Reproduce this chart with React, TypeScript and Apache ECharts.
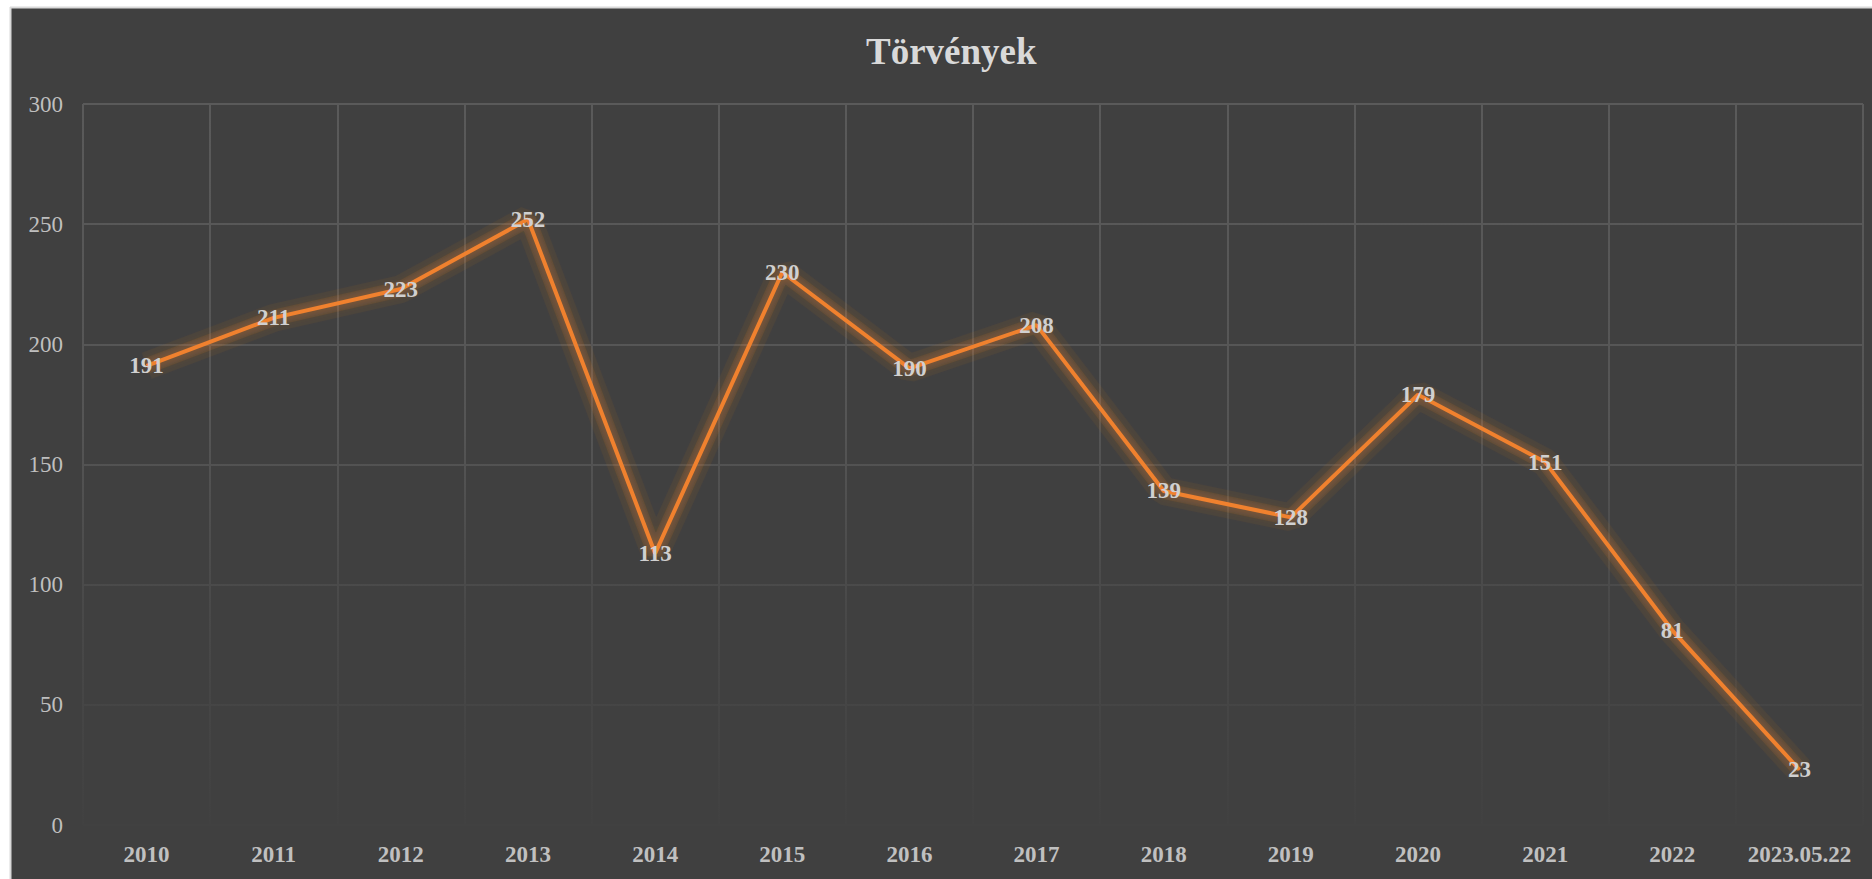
import React, { useEffect, useRef } from "react";
import * as echarts from "echarts";

const categories = ["2010", "2011", "2012", "2013", "2014", "2015", "2016", "2017", "2018", "2019", "2020", "2021", "2022", "2023.05.22"];
const values = [191, 211, 223, 252, 113, 230, 190, 208, 139, 128, 179, 151, 81, 23];
const yTicks = [0, 50, 100, 150, 200, 250, 300];
const titleText = "Törvények";

const FONT = "'Liberation Serif', 'Times New Roman', serif";

function glow(width: number, alpha: number, blur: number, z: number) {
  return {
    type: "line",
    data: values,
    symbol: "none",
    silent: true,
    z,
    lineStyle: {
      color: `rgba(240,129,47,${alpha})`,
      width,
      shadowBlur: blur,
      shadowColor: `rgba(240,129,47,${alpha * 1.5})`,
    },
    label: { show: false },
  };
}

export default function App() {
  const ref = useRef<HTMLDivElement>(null);
  useEffect(() => {
    if (!ref.current) return;
    const chart = echarts.init(ref.current, undefined, { renderer: "svg" });
    const gridColor = new echarts.graphic.LinearGradient(0, 104, 0, 825, [
      { offset: 0, color: "#5a5a5a" },
      { offset: 0.45, color: "#555555" },
      { offset: 0.7, color: "#494949" },
      { offset: 1, color: "#414141" },
    ], true);
    chart.setOption({
      animation: false,
      backgroundColor: "#404040",
      textStyle: { fontFamily: FONT },
      title: {
        text: titleText,
        left: 866,
        top: 33,
        padding: 0,
        textStyle: { color: "#d9d9d9", fontSize: 37, fontWeight: "bold", fontFamily: FONT },
      },
      graphic: [
        { type: "rect", shape: { x: 0, y: 0, width: 1872, height: 7 }, style: { fill: "#ffffff" }, z: 100 },
        { type: "rect", shape: { x: 0, y: 0, width: 10, height: 879 }, style: { fill: "#ffffff" }, z: 100 },
        { type: "line", shape: { x1: 10, y1: 7.5, x2: 1872, y2: 7.5 }, style: { stroke: "#d9d9d9", lineWidth: 2 }, z: 100 },
        { type: "line", shape: { x1: 10.5, y1: 7, x2: 10.5, y2: 879 }, style: { stroke: "#d9d9d9", lineWidth: 2 }, z: 100 },
      ],
      grid: { left: 83, right: 9, top: 104, bottom: 54, containLabel: false },
      xAxis: {
        type: "category",
        data: categories,
        boundaryGap: true,
        axisLine: { show: false },
        axisTick: { show: false },
        axisLabel: { color: "#c0c0c0", fontSize: 23, fontWeight: "bold", fontFamily: FONT, margin: 18, interval: 0 },
        splitLine: { show: true, lineStyle: { color: gridColor, width: 2 } },
      },
      yAxis: {
        type: "value",
        min: yTicks[0],
        max: yTicks[yTicks.length - 1],
        interval: 50,
        axisLine: { show: false },
        axisTick: { show: false },
        axisLabel: { color: "#bfbfbf", fontSize: 23, fontFamily: FONT, margin: 20 },
        splitLine: { show: true, lineStyle: { color: gridColor, width: 2 } },
      },
      series: [
        glow(28, 0.06, 14, 1),
        glow(16, 0.1, 10, 1),
        {
          type: "line",
          data: values,
          symbol: "circle",
          symbolSize: 1,
          z: 2,
          itemStyle: { color: "#f0812f" },
          lineStyle: {
            color: "#f0812f",
            width: 4,
            shadowBlur: 8,
            shadowColor: "rgba(240,129,47,0.5)",
          },
          label: {
            show: true,
            position: "inside",
            color: "#d0d0d0",
            fontSize: 23,
            fontWeight: "bold",
            fontFamily: FONT,
          },
        },
      ],
    });
    return () => chart.dispose();
  }, []);
  return <div ref={ref} style={{ position: "absolute", left: 0, top: 0, width: 1872, height: 879 }} />;
}
